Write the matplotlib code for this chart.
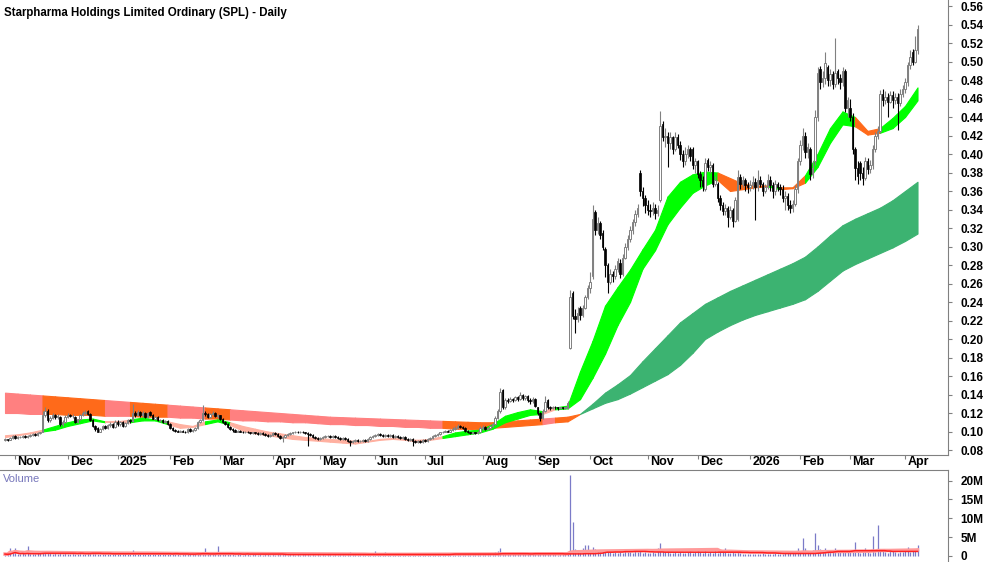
import numpy as np
import pandas as pd
import matplotlib
matplotlib.use("Agg")
import matplotlib.pyplot as plt
from matplotlib.transforms import blended_transform_factory

plt.rcParams['font.family'] = ['Liberation Sans', 'DejaVu Sans']

# Daily prices in thousandths of a dollar, one line per month (Oct 2024 .. Apr 2026)
close = [
    92, 91, 93, 95,
    93, 94, 94, 95, 94, 95, 96, 97, 96, 98, 99, 118, 122, 112, 115, 118, 116, 117, 108, 110, 116,
    118, 117, 117, 110, 113, 118, 120, 121, 119, 112, 106, 103, 100, 103, 106, 104, 107, 108, 105, 110,
    108, 110, 106, 109, 112, 111, 120, 118, 121, 118, 120, 116, 120, 118, 114, 116, 112, 112, 110, 111, 108,
    104, 102, 101, 100, 101, 100, 99, 103, 101, 102, 104, 110, 112, 120, 119, 116, 119, 120, 117, 118,
    113, 110, 108, 105, 103, 102, 100, 101, 100, 99, 100, 99, 98, 99, 98, 97, 98, 97, 96, 95, 96,
    98, 97, 95, 93, 94, 96, 97, 98, 99, 100, 99, 100, 99, 98, 97, 96, 94, 93, 92,
    93, 94, 95, 95, 94, 95, 94, 93, 92, 93, 92, 90, 89, 90, 91, 90, 90, 91, 90, 92, 94, 95,
    96, 97, 96, 95, 96, 95, 96, 94, 95, 94, 93, 94, 92, 91, 92, 90, 89, 90, 89, 91,
    90, 92, 93, 95, 96, 97, 99, 100, 101, 100, 102, 103, 104, 106, 105, 104, 101, 99, 98, 99, 98, 100, 104,
    105, 103, 104, 106, 108, 115, 122, 143, 126, 134, 133, 135, 134, 137, 135, 140, 136, 138, 134, 133, 135,
    128, 120, 115, 122, 132, 126, 125, 127, 126, 125, 126, 125, 126, 131, 245, 225, 222, 228, 226, 234, 245, 255,
    262, 330, 318, 325, 312, 300, 280, 262, 270, 268, 276, 284, 270, 288, 300, 308, 318, 326, 335, 342, 360, 352, 345,
    340, 338, 342, 336, 340, 430, 418, 420, 412, 418, 405, 418, 410, 400, 392, 400, 405, 398, 388, 392,
    378, 372, 365, 390, 386, 388, 368, 372, 352, 345, 338, 342, 332, 340, 328, 350, 375, 368, 372, 366, 364,
    366, 370, 364, 372, 368, 360, 364, 372, 366, 360, 368, 364, 362, 352, 355, 345, 342, 346, 362, 392,
    410, 420, 402, 408, 378, 385, 440, 488, 478, 482, 498, 480, 486, 476, 488, 482, 478, 490, 450, 458,
    440, 405, 385, 376, 380, 374, 392, 384, 388, 405, 420, 425, 465, 458, 462, 456, 464, 458, 462, 455, 465, 470,
    478, 496, 505, 500, 512, 535,
]
open_ = [
    91, 92, 91, 93,
    95, 93, 94, 94, 95, 94, 95, 96, 97, 96, 98, 100, 118, 122, 112, 115, 118, 116, 116, 108, 110,
    116, 118, 117, 116, 110, 113, 118, 120, 122, 119, 112, 106, 104, 100, 103, 106, 104, 107, 108, 105,
    110, 108, 110, 106, 109, 112, 111, 120, 118, 121, 118, 120, 116, 121, 118, 114, 116, 112, 112, 110, 111,
    108, 104, 102, 101, 100, 101, 100, 99, 103, 101, 102, 104, 110, 112, 120, 119, 116, 119, 120, 117,
    118, 113, 110, 108, 105, 103, 102, 100, 101, 100, 99, 100, 99, 98, 99, 98, 97, 98, 97, 96, 95,
    96, 98, 97, 95, 93, 94, 96, 97, 98, 99, 100, 99, 100, 99, 98, 97, 96, 94, 93,
    92, 93, 94, 95, 95, 94, 95, 94, 93, 92, 93, 92, 90, 89, 90, 91, 90, 90, 91, 90, 92, 94,
    95, 96, 97, 96, 95, 96, 95, 96, 94, 95, 94, 93, 94, 92, 91, 92, 90, 89, 90, 89,
    91, 90, 92, 93, 95, 96, 97, 99, 100, 101, 100, 102, 103, 104, 106, 105, 104, 101, 99, 98, 99, 98, 100,
    104, 105, 103, 104, 106, 108, 115, 122, 145, 126, 134, 133, 135, 134, 137, 135, 140, 136, 138, 134, 133,
    135, 126, 120, 115, 122, 134, 126, 125, 127, 126, 125, 126, 125, 125, 190, 250, 225, 222, 234, 226, 234, 245,
    255, 268, 337, 318, 325, 315, 297, 280, 262, 270, 268, 276, 282, 270, 288, 300, 308, 318, 326, 335, 380, 360, 352,
    345, 340, 338, 342, 336, 350, 432, 418, 420, 412, 418, 405, 418, 410, 400, 392, 400, 405, 405, 388,
    392, 378, 372, 362, 394, 386, 388, 368, 368, 352, 345, 338, 342, 332, 340, 328, 330, 375, 368, 372, 366,
    364, 366, 370, 364, 372, 368, 360, 364, 372, 366, 360, 368, 364, 362, 352, 355, 345, 342, 346, 362,
    392, 410, 420, 402, 405, 378, 392, 440, 492, 478, 482, 494, 480, 486, 476, 490, 482, 478, 490, 450,
    450, 440, 405, 385, 390, 380, 374, 392, 384, 388, 405, 420, 425, 465, 458, 462, 456, 464, 458, 462, 455, 465,
    470, 478, 496, 510, 500, 512,
]
high = [
    93, 92, 94, 96,
    96, 95, 95, 96, 96, 96, 97, 98, 98, 99, 100, 122, 126, 124, 117, 120, 119, 119, 117, 112, 118,
    120, 119, 119, 117, 114, 119, 122, 123, 123, 120, 113, 107, 105, 104, 107, 107, 108, 110, 109, 112,
    112, 111, 111, 110, 113, 113, 130, 122, 123, 122, 122, 121, 121, 122, 119, 117, 117, 114, 113, 112, 112,
    109, 105, 103, 102, 102, 102, 101, 104, 104, 103, 105, 111, 114, 129, 122, 120, 120, 122, 121, 119,
    118, 115, 111, 109, 106, 104, 103, 102, 102, 101, 101, 101, 100, 100, 100, 99, 99, 99, 98, 97, 97,
    99, 99, 98, 96, 95, 97, 98, 99, 100, 101, 101, 101, 101, 100, 99, 98, 97, 95, 94,
    94, 95, 96, 96, 96, 96, 96, 95, 94, 94, 94, 93, 91, 91, 92, 92, 91, 92, 92, 93, 95, 96,
    97, 98, 98, 97, 97, 97, 97, 97, 96, 96, 95, 95, 95, 93, 93, 93, 91, 91, 91, 92,
    92, 93, 94, 96, 97, 98, 100, 101, 102, 102, 103, 105, 106, 108, 107, 106, 105, 102, 100, 100, 100, 101, 106,
    107, 106, 105, 107, 109, 117, 124, 147, 146, 136, 136, 137, 136, 138, 138, 143, 141, 140, 139, 136, 137,
    136, 127, 121, 124, 138, 135, 128, 128, 128, 127, 127, 127, 127, 133, 253, 252, 232, 235, 236, 237, 248, 258,
    272, 345, 340, 332, 328, 318, 300, 282, 276, 274, 280, 288, 286, 292, 304, 312, 322, 330, 340, 346, 383, 364, 356,
    350, 346, 348, 346, 345, 446, 436, 428, 424, 424, 420, 424, 422, 414, 404, 408, 410, 408, 408, 396,
    394, 382, 376, 396, 396, 392, 390, 376, 370, 356, 348, 346, 344, 344, 342, 354, 383, 378, 376, 374, 370,
    372, 376, 374, 383, 376, 370, 368, 378, 376, 370, 372, 370, 368, 366, 360, 358, 350, 350, 366, 396,
    415, 428, 424, 412, 408, 392, 448, 494, 495, 490, 510, 496, 492, 490, 525, 492, 486, 494, 492, 462,
    460, 444, 408, 392, 392, 386, 397, 396, 394, 410, 424, 430, 469, 470, 468, 466, 468, 468, 466, 466, 470, 475,
    482, 500, 512, 514, 528, 540,
]
low = [
    90, 90, 91, 92,
    92, 92, 93, 93, 93, 93, 94, 95, 95, 95, 97, 99, 116, 110, 110, 114, 114, 114, 106, 106, 109,
    115, 116, 115, 109, 109, 112, 117, 118, 118, 111, 105, 101, 99, 99, 102, 103, 103, 105, 104, 104,
    106, 106, 105, 105, 108, 109, 110, 116, 117, 116, 116, 115, 115, 117, 113, 113, 111, 110, 109, 109, 107,
    103, 101, 100, 99, 99, 99, 98, 98, 100, 100, 101, 103, 109, 111, 117, 115, 115, 118, 116, 115,
    112, 109, 107, 104, 102, 100, 99, 99, 99, 98, 98, 98, 97, 97, 97, 96, 96, 96, 95, 94, 94,
    95, 96, 94, 92, 89, 93, 95, 96, 97, 98, 98, 98, 98, 97, 84, 95, 93, 92, 91,
    91, 92, 93, 94, 93, 93, 93, 92, 91, 91, 91, 89, 84, 88, 89, 89, 89, 89, 89, 89, 91, 93,
    94, 95, 95, 94, 94, 94, 94, 93, 93, 93, 92, 92, 91, 90, 90, 84, 88, 88, 88, 88,
    89, 89, 91, 92, 94, 95, 96, 98, 99, 99, 99, 101, 102, 103, 104, 103, 100, 98, 97, 97, 97, 97, 99,
    102, 102, 102, 103, 105, 107, 113, 120, 124, 124, 131, 132, 132, 133, 133, 134, 134, 134, 132, 130, 131,
    126, 118, 111, 114, 121, 124, 123, 124, 124, 123, 124, 124, 124, 124, 189, 222, 207, 218, 221, 224, 232, 243,
    250, 265, 312, 314, 308, 296, 267, 250, 259, 262, 265, 272, 266, 268, 286, 296, 305, 314, 322, 332, 355, 344, 336,
    334, 332, 334, 330, 333, 348, 414, 408, 386, 405, 400, 403, 406, 394, 386, 388, 396, 392, 384, 380,
    374, 364, 360, 360, 382, 380, 364, 365, 348, 340, 334, 334, 321, 330, 321, 326, 328, 362, 364, 360, 358,
    360, 362, 329, 360, 364, 355, 358, 362, 360, 352, 356, 360, 356, 348, 340, 340, 336, 337, 344, 358,
    388, 404, 396, 396, 372, 374, 388, 436, 470, 472, 476, 474, 474, 470, 472, 476, 470, 474, 445, 440,
    436, 400, 372, 368, 372, 366, 372, 378, 380, 384, 402, 416, 423, 452, 454, 440, 455, 450, 454, 426, 452, 462,
    466, 474, 492, 496, 498, 508,
]
# Daily volume in units of 100,000 shares
volume = [
    5, 4, 20, 9,
    20, 6, 5, 7, 6, 27, 5, 6, 4, 7, 8, 10, 9, 12, 7, 6, 8, 5, 9, 6, 7,
    6, 5, 7, 4, 6, 8, 5, 6, 7, 9, 8, 10, 6, 5, 4, 6, 5, 4, 6, 7,
    5, 6, 4, 7, 5, 6, 15, 8, 6, 7, 5, 6, 8, 5, 4, 6, 5, 7, 4, 5, 6,
    5, 4, 6, 5, 3, 4, 5, 6, 4, 5, 6, 8, 7, 9, 20, 6, 5, 7, 6, 27,
    9, 10, 6, 5, 4, 5, 3, 4, 5, 3, 4, 6, 3, 4, 5, 3, 4, 3, 5, 4, 3,
    4, 3, 5, 8, 6, 4, 3, 5, 4, 3, 4, 3, 5, 4, 6, 3, 4, 3, 4,
    3, 4, 3, 5, 4, 3, 4, 3, 5, 4, 3, 6, 10, 5, 4, 3, 4, 5, 3, 4, 3, 4,
    12, 4, 3, 4, 10, 5, 3, 4, 3, 5, 4, 3, 4, 3, 5, 4, 6, 3, 4, 5,
    4, 5, 6, 4, 5, 7, 6, 5, 4, 6, 5, 7, 6, 5, 4, 6, 5, 4, 5, 4, 6, 5, 7,
    6, 5, 4, 6, 8, 10, 12, 20, 9, 7, 6, 5, 6, 4, 5, 7, 5, 4, 6, 5, 4,
    6, 7, 8, 5, 7, 6, 4, 5, 4, 3, 4, 5, 4, 6, 215, 90, 18, 10, 12, 20, 30, 28,
    15, 25, 18, 12, 10, 12, 14, 16, 10, 9, 11, 8, 10, 9, 12, 10, 11, 9, 12, 10, 14, 9, 10,
    9, 8, 10, 9, 20, 35, 15, 10, 12, 9, 8, 10, 9, 11, 9, 8, 10, 12, 9, 10,
    14, 10, 9, 12, 8, 10, 9, 12, 8, 14, 10, 22, 9, 8, 10, 7, 15, 8, 6, 5, 4,
    5, 6, 4, 5, 6, 8, 5, 4, 6, 5, 7, 6, 5, 6, 8, 7, 9, 10, 12, 20,
    14, 47, 20, 12, 10, 15, 60, 30, 18, 15, 20, 12, 10, 14, 20, 15, 10, 12, 15, 10,
    12, 14, 38, 10, 9, 12, 20, 10, 9, 52, 10, 82, 15, 12, 10, 9, 14, 12, 10, 9, 11, 10,
    12, 25, 10, 12, 14, 28,
]

# GMMA style bands, read every 5th trading day (thousandths of a dollar)
short_fast = [94, 96, 98, 102, 106, 110, 113, 114, 110, 110,
              113, 115, 113, 108, 104, 105, 111, 113, 107, 101,
              98, 96, 94, 92, 91, 90, 89, 88, 87, 89,
              91, 92, 91, 89, 91, 95, 99, 101, 102, 108,
              117, 121, 124, 119, 126, 128, 165, 198, 236, 256,
              275, 297, 318, 354, 370, 378, 381, 372, 360, 362,
              364, 366, 362, 363, 377, 400, 428, 446, 430, 421,
              428, 439, 452, 472]
short_slow = [96, 97, 99, 100, 102, 106, 109, 112, 111, 111,
              110, 112, 112, 111, 108, 106, 108, 111, 110, 106,
              103, 100, 98, 96, 94, 93, 92, 91, 90, 90,
              92, 93, 92, 91, 92, 93, 95, 97, 99, 103,
              110, 114, 118, 122, 124, 125, 135, 158, 184, 215,
              240, 276, 296, 324, 342, 358, 366, 380, 374, 368,
              366, 365, 364, 364, 369, 386, 412, 432, 440, 425,
              423, 428, 440, 458]
long_fast = [120, 120, 119, 119, 119, 118, 118, 118, 117, 117,
             117, 116, 116, 116, 115, 115, 114, 114, 113, 112,
             112, 111, 111, 110, 110, 109, 108, 108, 107, 107,
             106, 106, 105, 105, 104, 104, 103, 103, 102, 104,
             105, 106, 107, 108, 110, 111, 119, 130, 142, 151,
             161, 176, 190, 204, 218, 228, 238, 245, 252, 258,
             264, 270, 276, 282, 289, 300, 312, 323, 330, 336,
             342, 350, 360, 370]
long_slow = [142, 141, 140, 139, 138, 137, 136, 135, 134, 133,
             132, 131, 130, 129, 128, 127, 126, 125, 124, 123,
             122, 121, 120, 119, 118, 117, 116, 115.5, 115, 114.5,
             114, 113.5, 113, 112.5, 112, 111.5, 111, 110.5, 110, 110,
             111, 112, 113, 114, 115, 116, 119, 125, 131, 135,
             141, 148, 155, 162, 172, 185, 200, 208, 215, 221,
             226, 230, 234, 238, 243, 252, 263, 274, 281, 287,
             293, 299, 306, 314]

holidays = ['2024-12-25', '2024-12-26', '2025-01-01', '2025-01-27', '2025-04-18',
            '2025-04-21', '2025-04-25', '2025-06-09', '2025-12-25', '2025-12-26',
            '2026-01-01', '2026-01-26', '2026-04-03', '2026-04-06']

n = min(len(close), len(open_), len(high), len(low), len(volume))
dates = pd.bdate_range('2024-10-28', periods=n, freq='C', holidays=holidays)
x = np.arange(n)
o = np.array(open_[:n]) / 1000
h = np.array(high[:n]) / 1000
l = np.array(low[:n]) / 1000
c = np.array(close[:n]) / 1000
vol = np.array(volume[:n]) * 1e5

GREY = '#808080'
fig = plt.figure(figsize=(10, 5.62), dpi=100)
ax = fig.add_axes([0, 107 / 562, 0.948, 455 / 562])
vax = fig.add_axes([0, 0, 0.948, 92 / 562])

# bands
nb = min(len(short_fast), len(short_slow), len(long_fast), len(long_slow))
kx = np.arange(nb) * 5
sf = np.array(short_fast[:nb]) / 1000
ss = np.array(short_slow[:nb]) / 1000
lf = np.array(long_fast[:nb]) / 1000
ls = np.array(long_slow[:nb]) / 1000
s_bull = sf >= ss
l_bull = lf >= ls
for k in range(nb - 1):
    seg = slice(k, k + 2)
    if l_bull[k]:
        col = '#3CB371'
    elif s_bull[k]:
        col = '#FF6A1A'
    else:
        col = '#FF8080'
    ax.fill_between(kx[seg], np.minimum(lf, ls)[seg], np.maximum(lf, ls)[seg],
                    facecolor=col, edgecolor=col, lw=0.8, zorder=1)
    if s_bull[k]:
        col = '#00FF00'
    elif l_bull[k]:
        col = '#FF6A1A'
    else:
        col = '#FFB0A0'
    ax.fill_between(kx[seg], np.minimum(sf, ss)[seg], np.maximum(sf, ss)[seg],
                    facecolor=col, edgecolor=col, lw=0.8, zorder=2)

# candles
up = c >= o
ax.vlines(x[up], l[up], h[up], color=GREY, lw=0.8, zorder=3)
ax.vlines(x[~up], l[~up], h[~up], color='black', lw=0.8, zorder=3)
ax.bar(x[up], c[up] - o[up], bottom=o[up], width=0.75, facecolor='white',
       edgecolor=GREY, lw=0.7, zorder=4)
ax.bar(x[~up], c[~up] - o[~up], bottom=o[~up], width=0.75, facecolor='black',
       edgecolor='black', lw=0.5, zorder=4)

ax.set_xlim(-2, 377.2)
ax.set_ylim(0.0746, 0.5665)
ax.set_yticks(np.arange(0.08, 0.561, 0.02))
ax.yaxis.set_major_formatter(plt.FormatStrFormatter('%.2f'))
ax.yaxis.tick_right()
ax.tick_params(axis='y', length=3, color=GREY, pad=6, labelsize=8.5)
for t in ax.get_yticklabels():
    t.set_fontweight('bold')
for s in ['top', 'left']:
    ax.spines[s].set_visible(False)
for s in ['right', 'bottom']:
    ax.spines[s].set_color(GREY)

# month ticks and labels
month_pos = [i for i in range(1, n) if dates[i].month != dates[i - 1].month]
ax.set_xticks(month_pos)
ax.set_xticklabels([])
ax.tick_params(axis='x', length=3, color=GREY)
tr = blended_transform_factory(ax.transData, ax.transAxes)
for i in month_pos:
    lab = str(dates[i].year) if dates[i].month == 1 else dates[i].strftime('%b')
    ax.text(i + 0.9, -0.016, lab, transform=tr, ha='left', va='center',
            fontsize=9, fontweight='bold')

fig.text(0.004, 0.988, 'Starpharma Holdings Limited Ordinary (SPL) - Daily',
         ha='left', va='top', fontsize=8.3, fontweight='bold')

# volume panel
vs = pd.Series(vol)
vax.vlines(x, 0, vol, color='#7B7BC8', lw=0.9, zorder=2)
vax.plot(x, vs.rolling(60, min_periods=1).mean(), color='#FF9A9A', lw=2.5, zorder=3)
vax.plot(x, vs.rolling(30, min_periods=1).median(), color='#FF2020', lw=1.1, zorder=4)
vax.set_xlim(ax.get_xlim())
vax.set_ylim(-1.6e6, 22.8e6)
vax.set_yticks([0, 5e6, 10e6, 15e6, 20e6])
vax.set_yticklabels(['0', '5M', '10M', '15M', '20M'])
vax.yaxis.tick_right()
vax.tick_params(axis='y', length=3, color=GREY, pad=6, labelsize=8.5)
for t in vax.get_yticklabels():
    t.set_fontweight('bold')
vax.set_xticks([])
for s in ['left', 'bottom']:
    vax.spines[s].set_visible(False)
for s in ['right', 'top']:
    vax.spines[s].set_color(GREY)
vax.text(0.003, 0.96, 'Volume', transform=vax.transAxes, ha='left', va='top',
         fontsize=8, color='#7777BB')

fig.savefig('out.png', dpi=100)
